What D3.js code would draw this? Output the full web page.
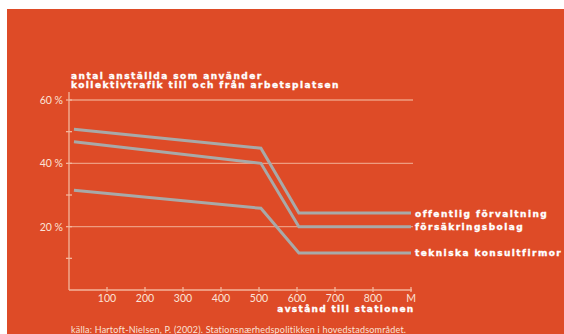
<!DOCTYPE html>
<html><head><meta charset="utf-8">
<script src="https://cdn.jsdelivr.net/npm/d3@7"></script>
<style>body{margin:0;background:#fff;overflow:hidden}svg{display:block}</style>
</head><body><svg id="c" width="564" height="334"></svg>
<script>
const xTickValues = [100,200,300,400,500,600,700,800,900];
const xTickLabels = ["100","200","300","400","500","600","700","800","M"];
const yMajor = [20,40,60];
const yMinor = [10,30,50];
const seriesNames = ["offentlig förvaltning","försäkringsbolag","tekniska konsultfirmor"];
const distances = [13,505,605,900];
const offentlig = [50.8,44.8,24.3,24.3];
const forsakring = [46.8,40,20,20];
const tekniska = [31.5,25.8,11.7,11.7];
const seriesValues = [offentlig, forsakring, tekniska];

const svg = d3.select("#c");
svg.append("rect").attr("x",7).attr("y",9).attr("width",557).attr("height",325).attr("fill","#DE4B27");

const x = d3.scaleLinear().domain([0,900]).range([69,411]);
const y = d3.scaleLinear().domain([0,60]).range([290,100]);
const axisCol = "#F3B59C";

// gridlines
svg.append("g").selectAll("line").data(yMajor).join("line")
  .attr("x1",69).attr("x2",413).attr("y1",d=>y(d)).attr("y2",d=>y(d))
  .attr("stroke","#EE9C80").attr("stroke-width",1.3);

// y axis
svg.append("line").attr("x1",69).attr("x2",69).attr("y1",92).attr("y2",290).attr("stroke",axisCol).attr("stroke-width",1.3);
svg.append("g").selectAll("line").data(yMajor.concat(yMinor)).join("line")
  .attr("x1",66).attr("x2",72).attr("y1",d=>y(d)).attr("y2",d=>y(d)).attr("stroke",axisCol).attr("stroke-width",1.3);
svg.append("g").selectAll("text").data(yMajor).join("text")
  .attr("x",63).attr("y",d=>y(d)+4).attr("text-anchor","end")
  .attr("fill","#FBE3D8").attr("font-family","Lato").attr("font-size",10.5)
  .text(d=>d+" %");

// x axis
svg.append("line").attr("x1",69).attr("x2",412).attr("y1",290).attr("y2",290).attr("stroke",axisCol).attr("stroke-width",1.3);
svg.append("g").selectAll("line").data(xTickValues).join("line")
  .attr("x1",d=>x(d)).attr("x2",d=>x(d)).attr("y1",287).attr("y2",292).attr("stroke",axisCol).attr("stroke-width",1.3);
svg.append("g").selectAll("text").data(xTickValues).join("text")
  .attr("x",d=>x(d)).attr("y",302).attr("text-anchor","middle")
  .attr("fill","#FBE3D8").attr("font-family","Lato").attr("font-size",10.5)
  .text((d,i)=>xTickLabels[i]);

// lines
const line = d3.line().x((d,i)=>x(distances[i])).y(d=>y(d));
svg.append("g").selectAll("path").data(seriesValues).join("path")
  .attr("d",line).attr("fill","none").attr("stroke","#A8A9A8").attr("stroke-width",3).attr("stroke-linejoin","miter");

const boldText = sel => sel.attr("fill","#fff").attr("font-family","DejaVu Sans").attr("font-weight","bold")
  .attr("font-size",9).attr("letter-spacing",1.45).attr("stroke","#fff").attr("stroke-width",0.35);

// legend labels
svg.append("g").selectAll("text").data(seriesValues).join("text")
  .attr("x",415).attr("y",d=>y(d[3])+3.5)
  .call(boldText)
  .text((d,i)=>seriesNames[i]);

// titles
const t = svg.append("text").call(boldText);
t.append("tspan").attr("x",71).attr("y",79).text("antal anställda som använder");
t.append("tspan").attr("x",71).attr("y",87.5).text("kollektivtrafik till och från arbetsplatsen");

svg.append("text").attr("x",414.5).attr("y",312).attr("text-anchor","end")
  .call(boldText).attr("letter-spacing",1.3)
  .text("avstånd till stationen");

svg.append("text").attr("x",71).attr("y",333)
  .attr("fill","#FBE3D8").attr("font-family","Lato").attr("font-size",9).attr("letter-spacing",0.2)
  .text("källa: Hartoft-Nielsen, P. (2002). Stationsnærhedspolitikken i hovedstadsområdet.");
</script></body></html>
